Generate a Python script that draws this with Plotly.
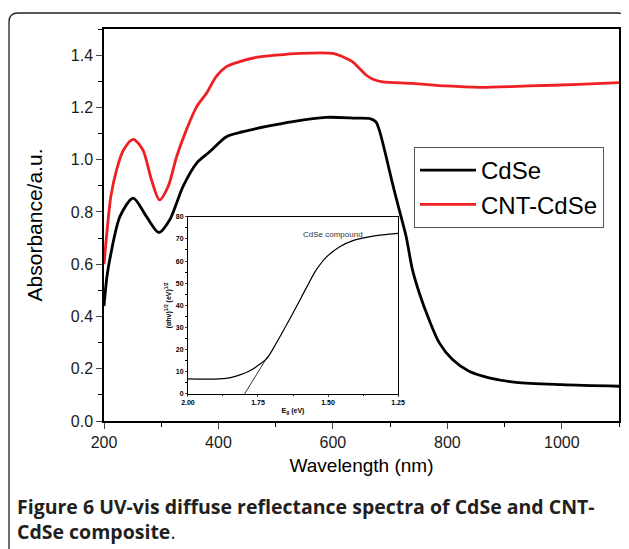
import plotly.graph_objects as go

# ---- main spectra ----
wl_cdse = [200, 205, 210, 228, 251, 274, 296, 315, 338, 362, 385, 414, 443, 484, 530, 588, 640,
           665, 675, 681, 693, 704, 716, 728, 739, 751, 768, 786, 809, 838, 873, 920, 1000, 1100]
abs_cdse = [0.44, 0.55, 0.617, 0.783, 0.853, 0.783, 0.721, 0.77, 0.897, 0.987, 1.031, 1.088, 1.107,
            1.127, 1.146, 1.162, 1.159, 1.157, 1.145, 1.114, 1.012, 0.91, 0.808, 0.706, 0.579, 0.49,
            0.388, 0.299, 0.235, 0.19, 0.165, 0.148, 0.139, 0.133]

wl_cnt = [200, 205, 212, 222, 234, 251, 268, 283, 297, 312, 327, 344, 362, 379, 396, 414, 437, 466,
          501, 542, 600, 617, 634, 646, 658, 670, 687, 739, 798, 856, 943, 1030, 1100]
abs_cnt = [0.60, 0.72, 0.86, 0.961, 1.037, 1.078, 1.037, 0.923, 0.846, 0.897, 1.012, 1.114, 1.203,
           1.254, 1.318, 1.356, 1.375, 1.391, 1.40, 1.407, 1.407, 1.394, 1.375, 1.35, 1.324, 1.308,
           1.298, 1.292, 1.282, 1.277, 1.282, 1.288, 1.295]

# ---- inset: Tauc plot ----
eg_ev = [2.00, 1.863, 1.815, 1.786, 1.756, 1.720, 1.685, 1.649, 1.613, 1.577, 1.542, 1.506,
         1.458, 1.411, 1.363, 1.315, 1.25]
tauc = [6.8, 7.0, 8.6, 10.0, 12.3, 15.8, 22.9, 31.0, 39.4, 48.0, 56.0, 61.8, 66.5, 69.2, 70.7,
        71.7, 72.5]
fit_ev = [1.798, 1.715]
fit_val = [0, 17]

x_ticks = [200, 400, 600, 800, 1000]
y_ticks = [0.0, 0.2, 0.4, 0.6, 0.8, 1.0, 1.2, 1.4]
inset_x_ticks = [2.00, 1.75, 1.50, 1.25]
inset_y_ticks = [0, 10, 20, 30, 40, 50, 60, 70, 80]

fig = go.Figure()
fig.add_trace(go.Scatter(x=wl_cdse, y=abs_cdse, mode="lines", name="CdSe",
                         line=dict(color="black", width=2.8, shape="spline", smoothing=0.8)))
fig.add_trace(go.Scatter(x=wl_cnt, y=abs_cnt, mode="lines", name="CNT-CdSe",
                         line=dict(color="#ee2024", width=2.8, shape="spline", smoothing=0.8)))
fig.add_trace(go.Scatter(x=eg_ev, y=tauc, mode="lines", showlegend=False, xaxis="x2", yaxis="y2",
                         line=dict(color="black", width=1.2, shape="spline", smoothing=1.0)))
fig.add_trace(go.Scatter(x=fit_ev, y=fit_val, mode="lines", showlegend=False, xaxis="x2", yaxis="y2",
                         line=dict(color="black", width=0.8)))

axis_font = dict(family="Liberation Sans, Arial, sans-serif", size=16, color="#1a1a1a")
inset_font = dict(family="Liberation Sans, Arial, sans-serif", size=7, color="black", weight="bold")

# page has an 8px body offset: figure is 8px smaller and margins 8px smaller on left/top
fig.update_layout(
    width=621, height=541,
    margin=dict(l=96, r=3, t=21, b=128),
    paper_bgcolor="white", plot_bgcolor="white",
    showlegend=True,
    legend=dict(x=0.602, y=0.699, xanchor="left", yanchor="top",
                bordercolor="#555555", borderwidth=1, bgcolor="white",
                font=dict(family="Liberation Sans, Arial, sans-serif", size=24, color="black"),
                tracegroupgap=0, itemwidth=56),
    xaxis=dict(range=[200, 1100], tickvals=x_ticks, ticks="outside", ticklen=6, tickwidth=1.3,
               showline=True, linecolor="black", linewidth=1.5, mirror=True, showgrid=False,
               zeroline=False, tickfont=axis_font,
               minor=dict(dtick=100, ticks="outside", ticklen=4, tickwidth=1.1, tickcolor="black", tick0=200),
               title=dict(text="Wavelength (nm)", standoff=9,
                          font=dict(family="Liberation Sans, Arial, sans-serif", size=19, color="black"))),
    yaxis=dict(range=[0, 1.5], tickvals=y_ticks, tickformat=".1f", ticks="outside", ticklen=6, tickwidth=1.3,
               showline=True, linecolor="black", linewidth=1.5, mirror=True, showgrid=False,
               zeroline=False, tickfont=axis_font,
               minor=dict(dtick=0.1, ticks="outside", ticklen=4, tickwidth=1.1, tickcolor="black", tick0=0),
               title=dict(text="Absorbance/a.u.", standoff=22,
                          font=dict(family="Liberation Sans, Arial, sans-serif", size=21, color="black"))),
    xaxis2=dict(domain=[0.163, 0.571], anchor="y2", range=[2.0, 1.25], tickvals=inset_x_ticks,
                tickformat=".2f", ticks="outside", ticklen=2, tickwidth=0.8, showline=True,
                linecolor="black", linewidth=1, mirror=True, showgrid=False, zeroline=False,
                tickfont=inset_font,
                minor=dict(dtick=0.125, tick0=1.25, ticks="outside", ticklen=1.5, tickcolor="black"),
                title=dict(text="E<sub>g</sub> (eV)", standoff=2, font=inset_font)),
    yaxis2=dict(domain=[0.069, 0.521], anchor="x2", range=[0, 80], tickvals=inset_y_ticks,
                ticks="outside", ticklen=2, tickwidth=0.8, showline=True, linecolor="black",
                linewidth=1, mirror=True, showgrid=False, zeroline=False, tickfont=inset_font,
                minor=dict(dtick=5, ticks="outside", ticklen=1.5, tickcolor="black"),
                title=dict(text="(αhν)<sup>1/2</sup> (eV)<sup>1/2</sup>", standoff=3, font=inset_font)),
)

fig.add_annotation(x=1.482, y=72.2, xref="x2", yref="y2", text="CdSe compound", showarrow=False,
                   font=dict(family="Liberation Sans, Arial, sans-serif", size=8, color="#333333"))

# caption
cap_font = dict(family="Open Sans, Noto Sans, sans-serif", size=19.5, color="#231f20")
fig.add_annotation(x=-0.172, y=-0.249, xref="paper", yref="paper", xanchor="left", yanchor="middle",
                   align="left",
                   text="<b>Figure 6</b> <b>UV-vis diffuse reflectance spectra of CdSe and CNT-</b><br>"
                        "<b>CdSe composite</b>.",
                   showarrow=False, font=cap_font)

# rounded outer frame (paper coordinates)
L, R, T, B = (9 - 104) / 515, (627 - 104) / 515, (421 - 13) / 392, (421 - 560) / 392
dx, dy = 9 / 515, 9 / 392
path = (f"M {L},{B} L {L},{T-dy} Q {L},{T} {L+dx},{T} L {R-dx},{T} Q {R},{T} {R},{T-dy} "
        f"L {R},{B}")
fig.add_shape(type="path", path=path, xref="paper", yref="paper",
              line=dict(color="#231f20", width=1.3), layer="below")

fig.write_html("out.html")
